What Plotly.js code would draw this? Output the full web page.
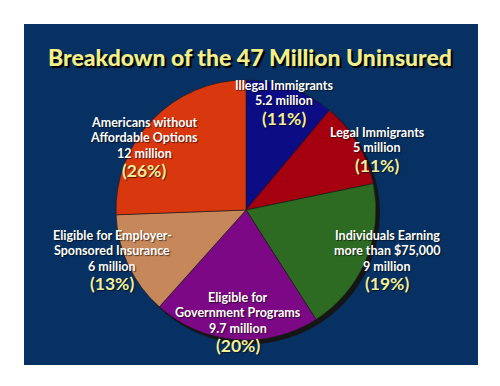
<!DOCTYPE html>
<html>
<head>
<meta charset="utf-8">
<script src="https://cdn.plot.ly/plotly-3.0.1.min.js"></script>
<style>html,body{margin:0;padding:0;background:#fff;}#chart{width:500px;height:386px;}</style>
</head>
<body>
<div id="chart"></div>
<script>
const categories = ["Illegal Immigrants", "Legal Immigrants", "Individuals Earning more than $75,000", "Eligible for Government Programs", "Eligible for Employer-Sponsored Insurance", "Americans without Affordable Options"];
const labelLines = [["Illegal Immigrants"], ["Legal Immigrants"], ["Individuals Earning", "more than $75,000"], ["Eligible for", "Government Programs"], ["Eligible for Employer-", "Sponsored Insurance"], ["Americans without", "Affordable Options"]];
const millions = [5.2, 5, 9, 9.7, 6, 12];
const percents = [11, 11, 19, 20, 13, 26];
const sliceColors = ["#0c0d84", "#a5000f", "#2e6b22", "#7c0886", "#c6875a", "#d9380f"];

const W = 500, H = 386;
const px = x => x / W;
const py = y => 1 - y / H;
// label anchors: centre x, first-line y (pixels)
const labelPos = [[284, 85], [377, 132], [387, 235], [238, 297], [112, 235], [144, 122]];
const LINE = 15.6, PCT_GAP = 17.5;

const textFont = {family: 'Lato', size: 12.5, color: '#ffffff', weight: 'bold', shadow: '1px 1px 1px rgba(0,0,0,0.6)'};
const pctFont = {family: 'Lato', size: 17.5, color: '#f2ee9c', weight: 'bold', shadow: '1px 1px 1px rgba(0,0,0,0.6)'};

const annotations = [];
categories.forEach((c, i) => {
  const lines = labelLines[i].concat([millions[i] + ' million']);
  const [cx, y0] = labelPos[i];
  lines.forEach((t, k) => {
    annotations.push({
      xref: 'paper', yref: 'paper', x: px(cx), y: py(y0 + k * LINE),
      xanchor: 'center', yanchor: 'middle', showarrow: false, borderpad: 0,
      text: t, font: textFont
    });
  });
  annotations.push({
    xref: 'paper', yref: 'paper', x: px(cx), y: py(y0 + (lines.length - 1) * LINE + PCT_GAP),
    xanchor: 'center', yanchor: 'middle', showarrow: false, borderpad: 0,
    text: '(' + percents[i] + '%)', font: pctFont
  });
});

const data = [{
  type: 'pie',
  labels: categories,
  values: millions,
  sort: false,
  direction: 'clockwise',
  rotation: 0,
  textinfo: 'none',
  hoverinfo: 'label+value',
  marker: {colors: sliceColors, line: {color: '#1a1a1a', width: 0.6}},
  domain: {x: [px(116), px(376)], y: [py(340), py(80)]},
  showlegend: false
}];

const layout = {
  width: W, height: H,
  margin: {l: 0, r: 0, t: 0, b: 0},
  paper_bgcolor: '#ffffff',
  title: {
    text: 'Breakdown of the 47 Million Uninsured',
    x: 0.5, xanchor: 'center', y: py(58), yanchor: 'middle',
    font: {family: 'Lato', size: 23, color: '#f3ef8a', weight: 900, shadow: '2px 2px 1px #000'}
  },
  shapes: [
    {type: 'rect', xref: 'paper', yref: 'paper', x0: px(24), x1: px(478), y0: py(365), y1: py(24), fillcolor: '#073163', line: {width: 0}, layer: 'below'},
    {type: 'circle', xref: 'paper', yref: 'paper', x0: px(119), x1: px(380), y0: py(344), y1: py(83), fillcolor: '#151515', line: {width: 0}, layer: 'below'}
  ],
  annotations: annotations
};

Plotly.newPlot('chart', data, layout, {displayModeBar: false, staticPlot: true});
</script>
</body>
</html>
